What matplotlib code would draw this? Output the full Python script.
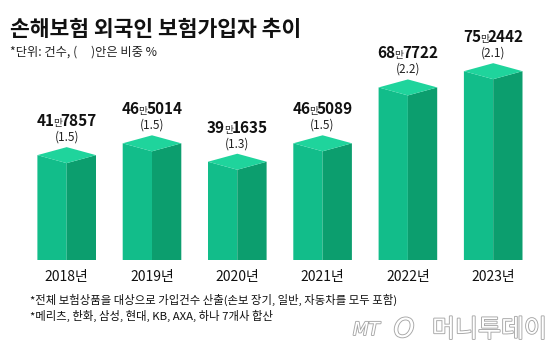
import numpy as np
import matplotlib
matplotlib.use("Agg")
import matplotlib.pyplot as plt
from matplotlib.patches import Polygon
from matplotlib.offsetbox import TextArea, HPacker, AnnotationBbox
import matplotlib.patheffects as pe

plt.rcParams['font.family'] = ['Noto Sans CJK KR', 'DejaVu Sans']

# data
years = ['2018년', '2019년', '2020년', '2021년', '2022년', '2023년']
counts = [417857, 465014, 391635, 465089, 687722, 752442]
shares = ['(1.5)', '(1.5)', '(1.3)', '(1.5)', '(2.2)', '(2.1)']

title = '손해보험 외국인 보험가입자 추이'
unit_note = '*단위: 건수, (     )안은 비중 %'
notes = ['*전체 보험상품을 대상으로 가입건수 산출(손보 장기, 일반, 자동차를 모두 포함)',
         '*메리츠, 한화, 삼성, 현대, KB, AXA, 하나 7개사 합산']

c_left = '#12bd8a'
c_right = '#0c9e6e'
c_top = '#1fd49c'

W, H = 560, 354
fig = plt.figure(figsize=(W / 100, H / 100), dpi=100, facecolor='white')

# axes: bottom of bars at 260 px from top, axes spans to top of figure
ax_bottom = (H - 260) / H
ax = fig.add_axes([0, ax_bottom, 1, 1 - ax_bottom])
px_val = 3985.0                      # value units per pixel
ax.set_ylim(0, 260 * px_val)
step = 85.3
ax.set_xlim(-66.7 / step, (W - 66.7) / step)
ax.axis('off')

w = 29.3 / step                      # half width of a prism
d = 8 * px_val                       # depth of the top rhombus

x = np.arange(len(counts))
for i, v in zip(x, counts):
    ax.add_patch(Polygon([(i - w, 0), (i - w, v), (i, v - d), (i, 0)],
                         closed=True, fc=c_left, ec='none'))
    ax.add_patch(Polygon([(i, 0), (i, v - d), (i + w, v), (i + w, 0)],
                         closed=True, fc=c_right, ec='none'))
    ax.add_patch(Polygon([(i - w, v), (i, v + d), (i + w, v), (i, v - d)],
                         closed=True, fc=c_top, ec='none'))

num_props = dict(family=['Noto Sans CJK KR'], fontsize=11,
                 fontweight='bold', color='#111111')
man_props = dict(family=['Noto Sans CJK KR'], fontsize=7, color='#222222')

for i, v, s in zip(x, counts, shares):
    man = v // 10000
    rest = v % 10000
    box = HPacker(children=[TextArea(str(man), textprops=num_props),
                            TextArea('만', textprops=man_props),
                            TextArea(f'{rest:04d}', textprops=num_props)],
                  sep=-1, pad=0, align='baseline')
    ab = AnnotationBbox(box, (i, v + 34 * px_val), frameon=False,
                        box_alignment=(0.5, 0.5), pad=0)
    ax.add_artist(ab)
    ax.text(i, v + 18 * px_val, s, ha='center', va='center',
            fontsize=8.5, color='#222222')

# year labels
for i, yl in zip(x, years):
    ax.text(i, -17 * px_val, yl, ha='center', va='center',
            fontsize=10, color='#111111', clip_on=False)

fig.text(10 / W, 1 - 30 / H, title, fontsize=15.5, fontweight='bold',
         color='#111111', va='center', ha='left')
fig.text(10 / W, 1 - 52 / H, unit_note, fontsize=8.8, color='#222222',
         va='center', ha='left')
fig.text(30 / W, 1 - 300 / H, notes[0], fontsize=8.2, color='#111111',
         va='center', ha='left')
fig.text(30 / W, 1 - 316 / H, notes[1], fontsize=8.2, color='#111111',
         va='center', ha='left')

# logo
outline = [pe.withStroke(linewidth=1.3, foreground='#a6a6a6')]
fig.text(353 / W, 1 - 330 / H, 'MT', fontsize=13, style='italic',
         family=['DejaVu Sans'], color='white', va='center', ha='left',
         path_effects=outline)
fig.text(404 / W, 1 - 330 / H, 'O', fontsize=19, style='italic',
         family=['DejaVu Sans'], color='white', va='center', ha='center',
         path_effects=outline)
fig.text(547 / W, 1 - 330 / H, '머니투데이', fontsize=18,
         color='white', va='center', ha='right', path_effects=outline)

fig.savefig('out.png', dpi=100, facecolor='white')
